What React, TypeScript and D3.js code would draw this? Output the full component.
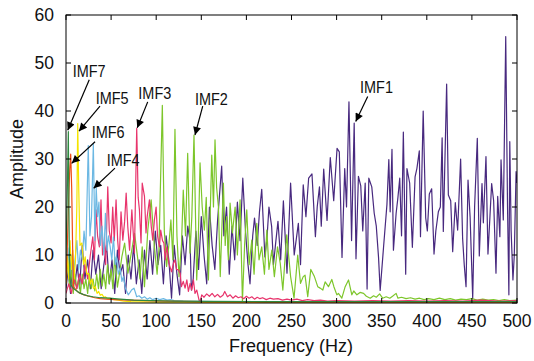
import React from 'react';
import * as d3 from 'd3';

const W = 534;
const H = 361;
const PLOT = { left: 66, right: 517, top: 15, bottom: 303 };

const xTicks = [0, 50, 100, 150, 200, 250, 300, 350, 400, 450, 500];
const yTicks = [0, 10, 20, 30, 40, 50, 60];

const seriesNames = ['IMF1', 'IMF2', 'IMF3', 'IMF4', 'IMF5', 'IMF6', 'IMF7'];
const seriesColors = ['#48297f', '#7dc62b', '#e8346c', '#6cb8e3', '#f5e400', '#ee4b14', '#2f8a40'];

const imf1: [number, number][] = [
  [0, 3], [2.5, 7], [5, 2], [7.5, 9], [10, 4], [12.5, 8], [15, 3], [18, 12], [21, 5], [24, 9], [27, 3], [30, 11], [33, 6], [36, 10], [39, 3], [42, 8], [45, 12], [48, 4], [51, 9], [54, 2], [57, 11], [60, 6], [63, 8], [66, 2], [69, 10], [72, 5], [75, 12], [78, 4], [81, 9], [84, 2], [87, 11], [90, 5], [93, 13], [96, 6], [99, 15], [102, 8], [105, 12], [108, 4], [111, 14], [114, 9], [117, 1], [120, 12], [123, 6], [126, 1.7], [129, 14], [132, 8], [135, 16], [137.5, 13], [139, 2.7], [141, 5], [144, 15], [147, 7], [150, 18], [153, 10], [156, 4], [159, 20], [162, 12], [165, 7], [168, 17], [170, 22], [172.6, 28.5], [175, 14], [178, 20], [181, 6], [184, 16], [187, 9], [190, 21], [193, 13], [196, 26], [199, 15], [201.6, 8.3], [204, 4], [207, 14], [209, 17.7], [212, 12], [214.5, 19], [217, 23.7], [220.5, 9.6], [223, 14], [225, 20], [228, 15.9], [230, 8], [232, 11.7], [235, 17], [238, 9], [241, 21.3], [245, 6.2], [249, 25], [253, 10], [257.6, 16.6], [260, 8], [263, 24.6], [266, 18], [269, 26], [272.7, 26.9], [276.5, 13.8], [278.5, 20], [281, 24.2], [283, 16], [285.7, 27.9], [289.4, 17.2], [293, 30.3], [296.8, 21.3], [300.5, 32.2], [303, 31.5], [306, 9.5], [309, 28], [311, 20], [313.7, 41.9], [316.6, 13], [319.5, 37.5], [321.5, 9.2], [324.2, 26.4], [326.8, 24.4], [329, 15], [331.7, 25], [333.8, 2.9], [335.7, 26], [339, 24.2], [341.7, 18.7], [344, 16], [346.5, 9.5], [348.3, 2.6], [352, 11.5], [355.8, 20.5], [357.9, 29.9], [359.4, 19], [361.4, 32], [363, 11], [366, 18.7], [368, 22], [370, 26], [372, 14], [374, 35.6], [376.6, 6], [378, 28], [381, 25], [384, 11.6], [387, 26.3], [389, 28], [391.7, 31.7], [393, 13.8], [396, 40], [398.8, 17.7], [400.6, 15], [402.8, 22.7], [405.4, 23.8], [408, 10.2], [410, 15], [412.8, 19], [415, 20], [417, 34.4], [418.3, 14.9], [422, 45.6], [423.9, 22.5], [426.5, 21.3], [428.7, 10.7], [431.6, 20.9], [434.2, 15.2], [437.5, 30], [439.7, 13.5], [441.5, 8], [443.5, 3.4], [445.7, 25.6], [448, 18], [450.9, 1], [453, 20], [456, 34.3], [458.2, 9.8], [461.2, 24.9], [462.7, 16.7], [465.6, 30.5], [467.8, 10.2], [470, 18], [471.9, 24.9], [474.1, 21.3], [476.7, 6.2], [478.6, 22.2], [481, 13.8], [482.3, 29.8], [484.8, 17.3], [487.5, 55.5], [489.5, 20], [491, 1.7], [492, 33.6], [493.5, 15], [495.5, 4.8], [497, 10], [499, 27.4], [500, 25],
];

const imf2: [number, number][] = [
  [0, 4], [2, 9], [4, 3], [6, 7], [8, 2], [10, 6], [12, 3], [14, 5], [16, 2], [18, 6], [20, 3], [22, 5], [24, 2], [26, 6], [28, 3], [30, 5], [32, 2.5], [34, 6], [36, 3], [38, 7], [40, 3.5], [42, 6], [44, 3], [46, 8], [48, 4], [50, 7], [52, 3], [54, 9.6], [57, 3.3], [60, 7], [62, 9.7], [65, 12.5], [68.7, 6.2], [72, 10], [76, 14.5], [79.7, 9], [82, 5], [84.5, 11.7], [87, 3.4], [90.7, 15.2], [94.4, 21.5], [98, 11.7], [101, 6], [103, 11], [106.8, 41.2], [109, 15], [111.5, 7.6], [114, 12], [116.3, 17.3], [118.5, 9], [120.8, 36.2], [123, 14], [125.3, 5.5], [128, 12], [130, 23.5], [132.5, 14], [134.9, 31.2], [137.5, 10.4], [139.5, 18], [141.9, 35], [144.9, 4.8], [146.5, 12], [148.6, 29.2], [151, 20], [153.4, 15.2], [155.5, 22], [157.9, 4.8], [159.5, 16], [161.6, 30.8], [163.5, 20], [165.2, 34], [167, 24], [169, 20], [171, 5.5], [174.5, 25], [176.5, 12], [178.2, 18], [180, 9], [181.9, 20.8], [184.5, 14.6], [187.5, 20], [190, 10], [193, 21.5], [195.6, 0.3], [198, 12], [200.4, 19.4], [203, 8], [206, 13.1], [208.5, 6], [211.5, 16.6], [214, 9], [217, 11.7], [220, 6], [222.7, 15.2], [225, 7], [228.2, 11], [231, 5.5], [234.5, 11.7], [237.5, 8.3], [240.4, 2.7], [244.7, 14.2], [249, 5.5], [252.8, 1], [256.9, 10], [260, 4.1], [263, 5.5], [265, 5.8], [268, 1.3], [271.4, 7], [275.4, 5.5], [279.1, 3.4], [281.8, 3.1], [284.7, 2.7], [287.3, 4.4], [291, 3.4], [294.7, 4.9], [297, 3.4], [300.3, 1.7], [302, 2], [305.8, 1], [309.5, 3.4], [313.2, 4.8], [316.9, 1.7], [319, 2.5], [322.5, 1.7], [326, 2.2], [329.9, 2], [333, 1.4], [337.3, 1], [341, 1.5], [344, 1.2], [347.7, 1.9], [351, 1], [355, 1.3], [359, 1.0], [362, 1.4], [366, 2.0], [368, 1.0], [372, 1.2], [377, 0.9], [382, 1.1], [387, 0.8], [392, 1.0], [397, 0.7], [402, 0.9], [408, 0.7], [414, 1.0], [420, 0.7], [426, 0.9], [432, 0.6], [438, 0.8], [444, 0.7], [450, 0.9], [456, 0.6], [462, 0.8], [468, 0.6], [474, 0.7], [480, 0.5], [486, 0.7], [492, 0.5], [500, 0.6],
];

const imf3: [number, number][] = [
  [0, 2], [3, 4], [6, 2], [9, 5], [12, 3], [15, 6], [18, 4], [21, 8], [24, 5], [27, 10], [29.7, 13.8], [31.5, 9], [33.4, 19.4], [35, 14], [37, 11.7], [38.8, 21.5], [40.5, 10], [42.5, 12.6], [44, 8], [46.3, 24.2], [48, 15], [50, 12.5], [51.8, 20], [53.5, 13], [55.5, 21.5], [57.3, 13], [59, 9], [61, 19], [63, 13.1], [65, 17], [66.7, 22.9], [68.5, 15.9], [70.5, 11], [73, 19.4], [75.9, 10.4], [78.4, 36.4], [80, 22], [81.4, 19.4], [83.2, 12.5], [84.5, 25], [87, 22.2], [88.7, 14.6], [90, 18], [92.5, 21.5], [94.5, 16], [96.2, 13.1], [98, 17.3], [99.9, 20], [101.5, 14], [103.6, 11.7], [105, 15.2], [107, 13], [108.5, 12.5], [110, 9], [111.8, 11.7], [114, 8.3], [117, 6.5], [119.2, 8.3], [120.8, 9], [122.5, 7], [124.5, 6.9], [126.6, 6.2], [128, 3.4], [130, 4.5], [132, 3.1], [134, 4.8], [135.7, 2.4], [137.6, 4.1], [139.4, 2.7], [141.3, 4.8], [143, 2], [145, 2.7], [147.5, 0.6], [148.6, 0.2], [150.5, 1.7], [153, 1.2], [156, 1.9], [159, 1.4], [162, 2.0], [165, 1.3], [168, 1.8], [171, 1.2], [174, 1.6], [176, 2.4], [179, 1.3], [182, 1.7], [185, 1.0], [188, 1.5], [191, 1.1], [194, 1.3], [197, 0.9], [200, 1.4], [203, 1.0], [206, 1.3], [209, 0.8], [212, 1.2], [215, 0.9], [218, 1.1], [222, 0.7], [226, 1.0], [230, 0.8], [235, 0.9], [240, 0.6], [245, 0.8], [250, 0.6], [256, 0.8], [262, 0.5], [268, 0.7], [275, 0.5], [282, 0.6], [290, 0.4], [300, 0.5], [320, 0.4], [340, 0.5], [360, 0.4], [380, 0.5], [400, 0.4], [420, 0.5], [440, 0.4], [460, 0.6], [480, 0.4], [500, 0.5],
];

const imf4: [number, number][] = [
  [0, 8], [2, 11.5], [4, 6], [6, 10], [8, 5], [10, 9], [12, 13], [14, 7], [16, 11], [18, 9], [20, 15], [22, 11], [24.7, 32.8], [26.5, 14], [28.3, 18], [30.3, 33.1], [32, 13], [33.5, 24], [35, 18], [36.5, 21], [38, 12], [40, 16], [42, 10], [43.7, 18.7], [45.5, 11], [47, 14], [49, 11.7], [50.8, 9], [52.6, 13.8], [54.5, 8], [56, 9.6], [58, 6], [60, 7.3], [62, 4.5], [63.6, 5.5], [66, 3], [69, 1.7], [71, 2.2], [72.7, 2.7], [75.4, 3.1], [78.4, 1.3], [81, 1.5], [84, 1.0], [87, 1.3], [90, 0.8], [93, 1.1], [96, 0.7], [100, 1.0], [104, 0.7], [108, 0.9], [112, 0.6], [116, 0.7], [120, 0.5], [130, 0.4], [145, 0.35], [165, 0.3], [200, 0.3], [260, 0.3], [330, 0.3], [400, 0.3], [500, 0.3],
];

const imf5: [number, number][] = [
  [0, 6], [1.5, 10], [3, 5], [4.5, 13], [6, 7], [7.5, 11], [9, 5], [10.5, 9], [12, 20], [13, 37.4], [14, 25], [15.5, 12], [17.6, 12.5], [19.5, 8], [21.3, 9.6], [23, 6], [25, 6.2], [27, 4], [28.8, 5], [30.5, 3], [32.5, 3.4], [34.5, 2], [36.2, 2.4], [38, 1.6], [40, 1.8], [42, 1.2], [43.6, 1.3], [46, 0.9], [49, 1.0], [53, 0.7], [58, 0.6], [64, 0.4], [72, 0.3], [85, 0.25], [100, 0.2], [130, 0.2], [160, 0.15], [200, 0.1], [300, 0.1], [400, 0.1], [500, 0.1],
];

const imf6: [number, number][] = [
  [0, 4], [1.5, 12], [3, 22], [4.2, 28], [5.2, 31], [6.3, 24], [7.3, 12], [8.3, 3.4], [10, 3], [12.6, 2.4], [15, 2.1], [17.5, 1.9], [20, 1.7], [24, 1.5], [27.4, 1.3], [32, 1.1], [38, 0.9], [45, 0.8], [55, 0.7], [70, 0.6], [90, 0.5], [110, 0.4], [130, 0.35], [150, 0.3], [200, 0.25], [300, 0.2], [400, 0.2], [500, 0.2],
];

const imf7: [number, number][] = [
  [0, 10], [1.3, 22], [2.6, 35.7], [3.6, 12], [4.5, 5], [5.5, 3.8], [7, 3.3], [9, 2.9], [12, 2.5], [15, 2.1], [19, 1.8], [24, 1.5], [30, 1.3], [38, 1.1], [48, 1.0], [60, 0.8], [75, 0.6], [95, 0.5], [120, 0.4], [160, 0.35], [220, 0.3], [300, 0.3], [400, 0.3], [500, 0.3],
];

const seriesData = [imf1, imf2, imf3, imf4, imf5, imf6, imf7];

// annotation: label anchor (freq, amp), arrow start (freq, amp), arrow tip (freq, amp)
const annLabelF = [326, 143, 80.2, 45.1, 32.9, 28.5, 7.4];
const annLabelA = [43.7, 41.25, 42.4, 28.6, 41.5, 34.3, 47.0];
const annFromF = [334.5, 151.6, 90.6, 54.3, 37.7, 32.2, 25.8];
const annFromA = [43.0, 41.0, 41.9, 28.1, 41.0, 33.6, 46.5];
const annTipF = [321.2, 143, 79.0, 30.7, 14.4, 6.3, 1.9];
const annTipA = [37.8, 35.0, 36.5, 23.9, 35.8, 29.1, 36.0];

const FONT = '"Liberation Sans", Arial, Helvetica, sans-serif';

export default function App() {
  const x = d3.scaleLinear().domain([0, 500]).range([PLOT.left, PLOT.right]);
  const y = d3.scaleLinear().domain([0, 60]).range([PLOT.bottom, PLOT.top]);
  const line = d3
    .line<[number, number]>()
    .x((d) => x(d[0]))
    .y((d) => y(d[1]));

  const tickLen = 5;

  return (
    <svg
      width={W}
      height={H}
      style={{ position: 'absolute', left: 0, top: 0, background: '#fff' }}
      fontFamily={FONT}
    >
      <defs>
        <clipPath id="plotClip">
          <rect x={PLOT.left} y={PLOT.top} width={PLOT.right - PLOT.left} height={PLOT.bottom - PLOT.top} />
        </clipPath>
        <marker
          id="arrowHead"
          viewBox="0 0 10 10"
          refX={10}
          refY={5}
          markerWidth={10}
          markerHeight={8}
          markerUnits="userSpaceOnUse"
          orient="auto"
        >
          <path d="M0,0 L10,5 L0,10 z" fill="#000" />
        </marker>
      </defs>
      <rect x={0} y={0} width={W} height={H} fill="#fff" />

      <g clipPath="url(#plotClip)">
        {seriesData.map((s, i) => (
          <path
            key={seriesNames[i]}
            d={line(s) || ''}
            fill="none"
            stroke={seriesColors[i]}
            strokeWidth={1.2}
            strokeLinejoin="round"
          />
        ))}
      </g>

      <rect
        x={PLOT.left}
        y={PLOT.top}
        width={PLOT.right - PLOT.left}
        height={PLOT.bottom - PLOT.top}
        fill="none"
        stroke="#000"
        strokeWidth={1}
      />

      {xTicks.map((t) => (
        <g key={'xt' + t}>
          <line x1={x(t)} x2={x(t)} y1={PLOT.bottom} y2={PLOT.bottom - tickLen} stroke="#000" />
          <line x1={x(t)} x2={x(t)} y1={PLOT.top} y2={PLOT.top + tickLen} stroke="#000" />
          <text x={x(t)} y={327} fontSize={17.5} textAnchor="middle" fill="#111">
            {t}
          </text>
        </g>
      ))}
      {yTicks.map((t) => (
        <g key={'yt' + t}>
          <line x1={PLOT.left} x2={PLOT.left + tickLen} y1={y(t)} y2={y(t)} stroke="#000" />
          <line x1={PLOT.right} x2={PLOT.right - tickLen} y1={y(t)} y2={y(t)} stroke="#000" />
          <text x={54} y={y(t) + 6} fontSize={17.5} textAnchor="end" fill="#111">
            {t}
          </text>
        </g>
      ))}

      <text x={291} y={352} fontSize={18} textAnchor="middle" fill="#111">
        Frequency (Hz)
      </text>
      <text
        transform={`translate(23,${(PLOT.top + PLOT.bottom) / 2}) rotate(-90)`}
        fontSize={18}
        textAnchor="middle"
        fill="#111"
      >
        Amplitude
      </text>

      {seriesNames.map((name, i) => (
        <g key={'ann' + name}>
          <line
            x1={x(annFromF[i])}
            y1={y(annFromA[i])}
            x2={x(annTipF[i])}
            y2={y(annTipA[i])}
            stroke="#000"
            strokeWidth={1.2}
            markerEnd="url(#arrowHead)"
          />
          <text
            transform={`translate(${x(annLabelF[i])},${y(annLabelA[i])}) scale(0.85,1)`}
            fontSize={17}
            fill="#111"
          >
            {name}
          </text>
        </g>
      ))}
    </svg>
  );
}
